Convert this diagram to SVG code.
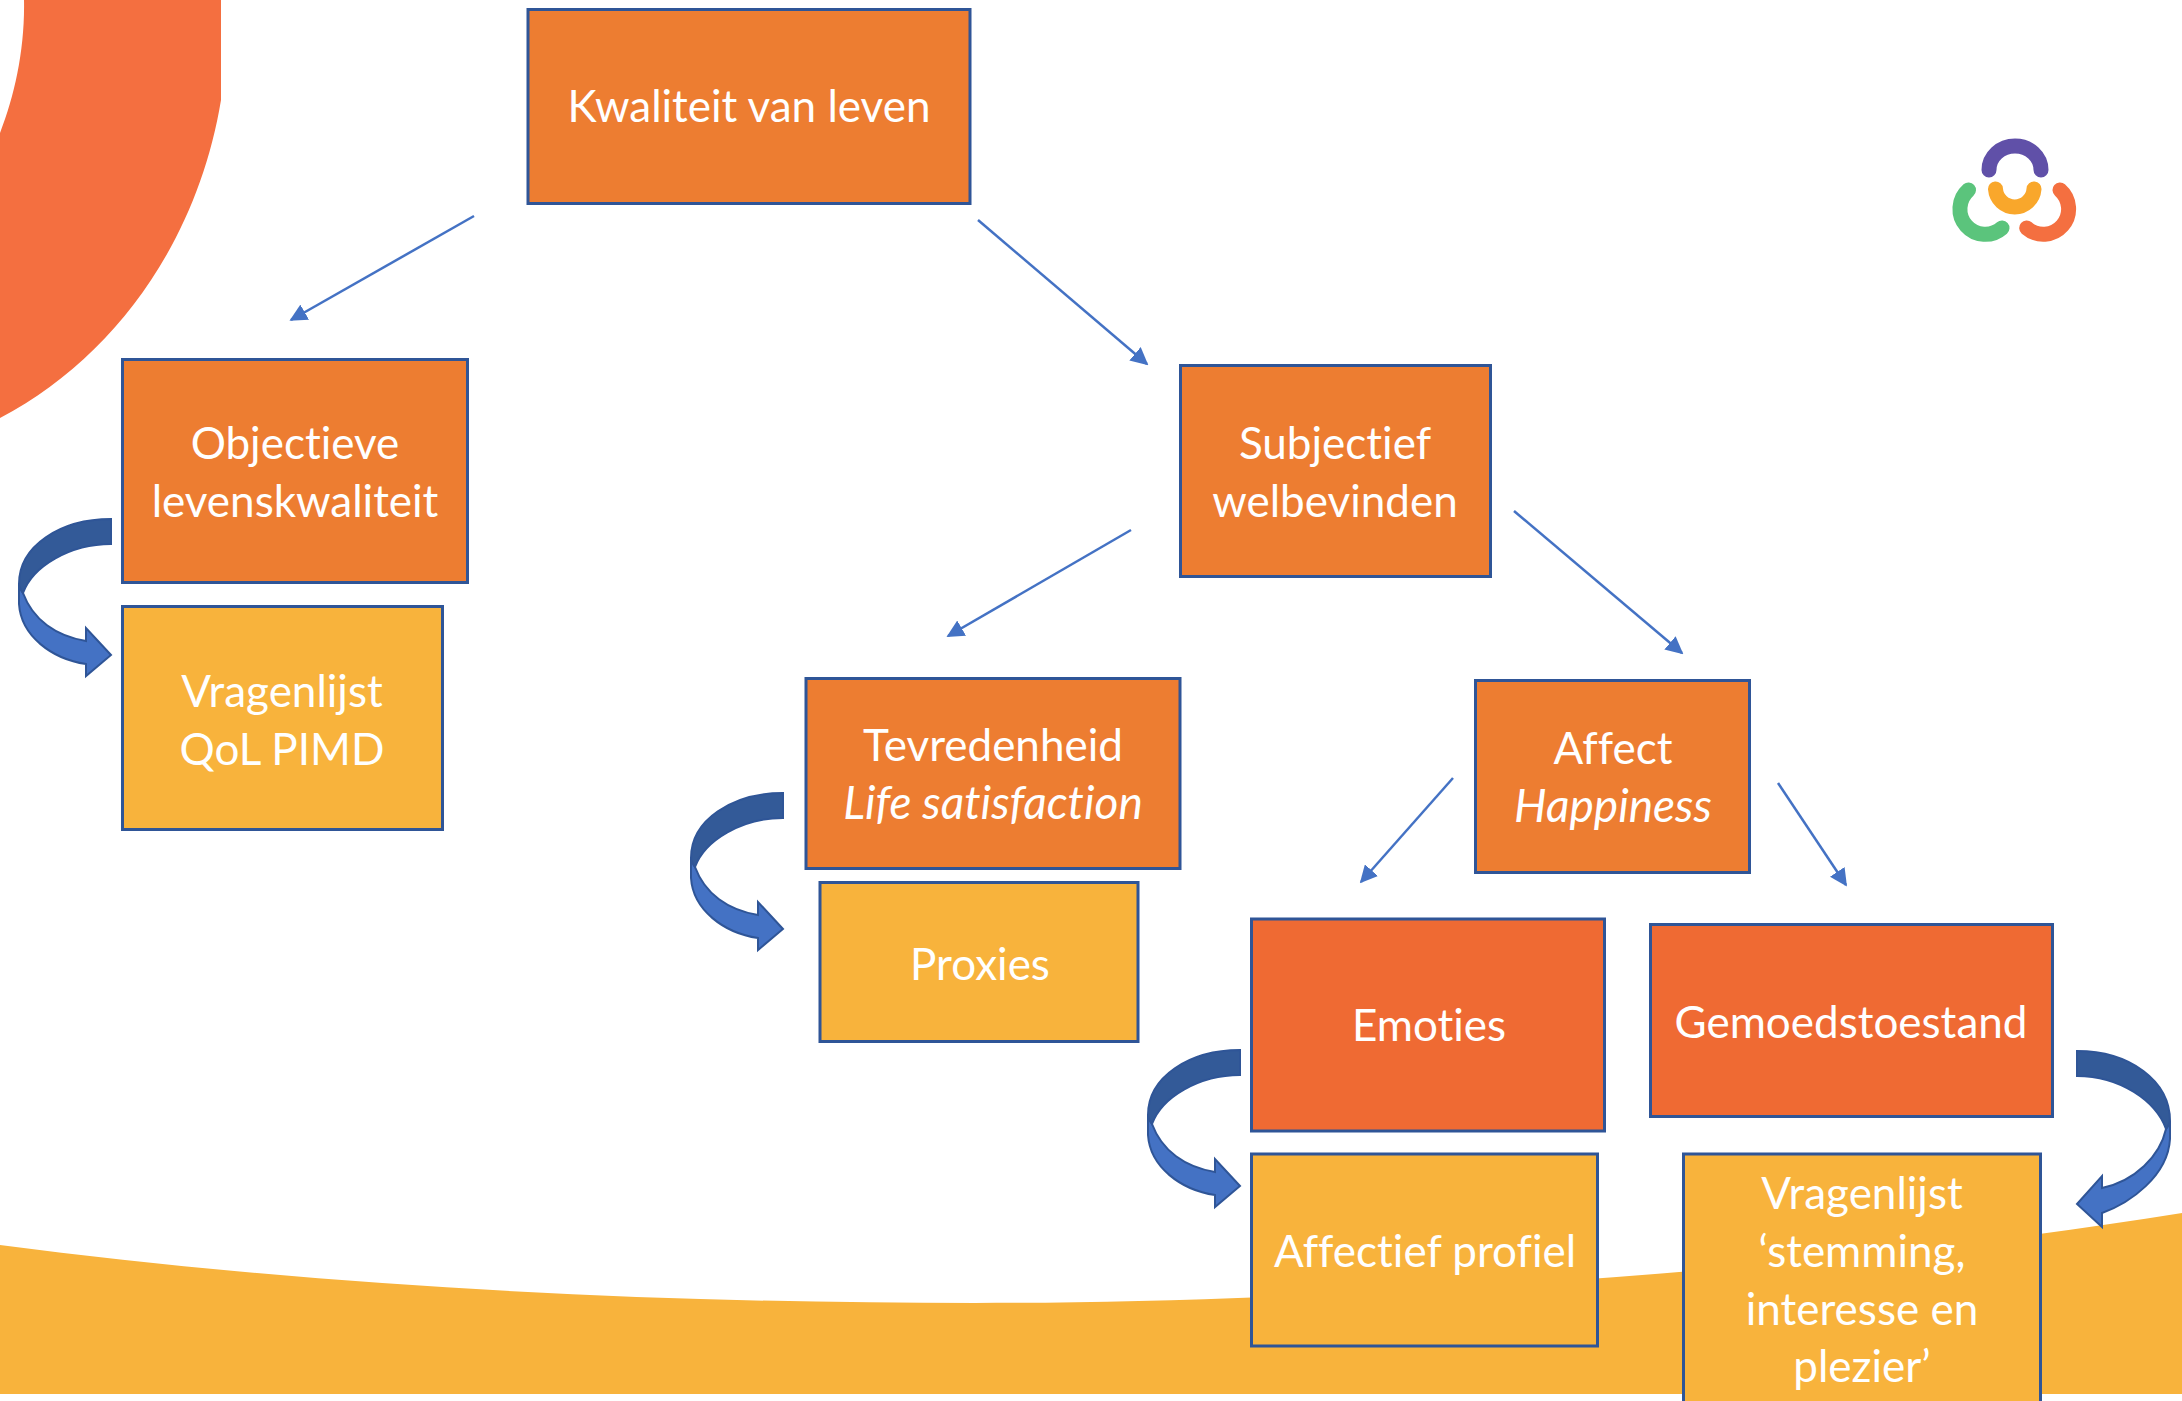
<svg xmlns="http://www.w3.org/2000/svg" width="2182" height="1401" viewBox="0 0 2182 1401">
<style>
.o{fill:#ED7D31;stroke:#2F5597;stroke-width:3}
.r{fill:#EF6A33;stroke:#2F5597;stroke-width:3}
.y{fill:#F8B33C;stroke:#2F5597;stroke-width:3}
text{font-family:"Lato","Liberation Sans",sans-serif;font-size:44px;fill:#fff;text-anchor:middle;font-variant-ligatures:none}
.i{font-style:italic;font-size:46px}
.l{fill:none;stroke:#4472C4;stroke-width:2.5;marker-end:url(#h)}
.d{fill:#335A98;stroke:#2F5597;stroke-width:2}
.b{fill:#4472C4;stroke:#2F5597;stroke-width:2}
.g{fill:none;stroke-width:15;stroke-linecap:round}
</style>
<defs>
<marker id="h" viewBox="0 0 10 10" refX="9" refY="5" markerWidth="7" markerHeight="7" orient="auto"><path d="M0,0L10,5L0,10Z" fill="#4472C4"/></marker>
<g id="ca">
<path class="b" d="M19,584V604C21,636 52,659 86,664V676L111,655L86,628V641C56,636 33,620 23,593C21,590 19,587 19,584Z"/>
<path class="d" d="M111,519C60,519 19,546 19,584C19,587 21,590 23,593C33,566 70,544 111,544Z"/>
</g>
</defs>
<rect width="2182" height="1401" fill="#fff"/>
<g id="background">
<path d="M24,0C25,48 15,95 0,133V418C115,358 198,240 221,100V0Z" fill="#F46F40"/>
<path d="M0,1245C330,1288 660,1303 975,1303C1300,1303 1800,1275 2182,1213V1394H0Z" fill="#F8B33C"/>
</g>
<g id="logo">
<path class="g" stroke="#6050A8" d="M1989,170A26,24 0 0 1 2041,170"/>
<path class="g" stroke="#F9A72B" d="M1995.500,189A19.300,19.300 0 0 0 2034,189"/>
<path class="g" stroke="#5BC47C" d="M1968.500,190A25,25 0 0 0 2002,228"/>
<path class="g" stroke="#F46F40" d="M2060,190A25,25 0 0 1 2026.700,228"/>
</g>
<g id="connectors">
<path class="l" d="M474,216L291,320"/>
<path class="l" d="M978,220L1147,364"/>
<path class="l" d="M1131,530L948,636"/>
<path class="l" d="M1514,511L1682,653"/>
<path class="l" d="M1453,778L1361,882"/>
<path class="l" d="M1778,783L1846,885"/>
<use href="#ca"/>
<use href="#ca" transform="translate(672,274)"/>
<use href="#ca" transform="translate(1129,531)"/>
<path class="b" d="M2170,1121V1139C2168,1176 2130,1203 2102,1213V1227L2077,1204L2102,1176V1188C2135,1181 2160,1156 2166,1129C2168,1126 2170,1124 2170,1121Z"/>
<path class="d" d="M2077,1051C2130,1051 2170,1081 2170,1121C2170,1124 2168,1126 2166,1129C2156,1101 2120,1076 2077,1076Z"/>
</g>
<g id="n-kwaliteit"><rect class="o" x="528" y="9.500" width="442" height="194"/><text x="749" y="122">Kwaliteit van leven</text></g>
<g id="n-objectieve"><rect class="o" x="122.500" y="359.500" width="345" height="223"/><text x="295" y="459">Objectieve</text><text x="295" y="517">levenskwaliteit</text></g>
<g id="n-qol"><rect class="y" x="122.500" y="606.500" width="320" height="223"/><text x="282" y="707">Vragenlijst</text><text x="282" y="765">QoL PIMD</text></g>
<g id="n-subjectief"><rect class="o" x="1180.500" y="365.500" width="310" height="211"/><text x="1335" y="459">Subjectief</text><text x="1335" y="517">welbevinden</text></g>
<g id="n-tevredenheid"><rect class="o" x="806" y="678.500" width="374" height="190"/><text x="993" y="761">Tevredenheid</text><text class="i" x="993" y="819">Life satisfaction</text></g>
<g id="n-proxies"><rect class="y" x="820" y="882.500" width="318" height="159"/><text x="980" y="980">Proxies</text></g>
<g id="n-affect"><rect class="o" x="1475.500" y="680.500" width="274" height="192"/><text x="1613" y="764">Affect</text><text class="i" x="1613" y="822">Happiness</text></g>
<g id="n-emoties"><rect class="r" x="1251.500" y="919" width="353" height="212"/><text x="1429" y="1041">Emoties</text></g>
<g id="n-gemoedstoestand"><rect class="r" x="1650.500" y="924.500" width="402" height="192"/><text x="1851" y="1038">Gemoedstoestand</text></g>
<g id="n-affectief"><rect class="y" x="1251.500" y="1154" width="346" height="192"/><text x="1425" y="1267">Affectief profiel</text></g>
<g id="n-stemming"><rect class="y" x="1683.500" y="1154" width="357" height="260"/><text x="1862" y="1209">Vragenlijst</text><text x="1862" y="1267">‘stemming,</text><text x="1862" y="1325">interesse en</text><text x="1862" y="1382">plezier’</text></g>
</svg>
